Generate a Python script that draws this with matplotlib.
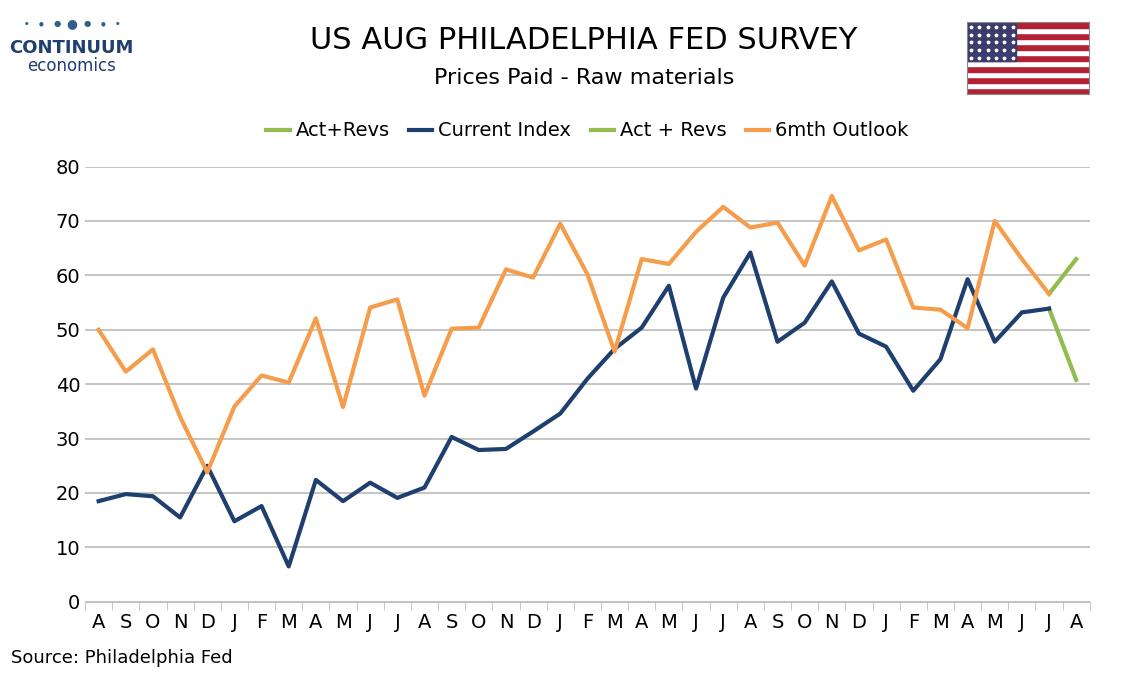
import matplotlib.pyplot as plt
import numpy as np

months = list("ASOND") + list("JFMAMJJA") + list("SOND") + list("JFMAMJJA") + list("SOND") + list("JFMAMJJA")
current = [18.5, 19.8, 19.4, 15.5, 25.0, 14.8, 17.6, 6.5, 22.4, 18.5, 21.9, 19.1, 21.0,
           30.3, 27.9, 28.1, 31.3, 34.6, 41.0, 46.5, 50.4, 58.1, 39.2, 55.9, 64.2,
           47.8, 51.3, 58.9, 49.3, 46.9, 38.8, 44.6, 59.3, 47.8, 53.2, 53.9, np.nan]
outlook = [50.0, 42.3, 46.4, 34.0, 23.8, 35.9, 41.6, 40.3, 52.1, 35.8, 54.1, 55.6, 37.9,
           50.2, 50.4, 61.1, 59.6, 69.5, 60.2, 46.0, 63.0, 62.1, 68.0, 72.6, 68.8,
           69.7, 61.8, 74.6, 64.6, 66.6, 54.1, 53.7, 50.3, 70.0, 63.0, 56.6, np.nan]
rev_current = [53.9, 40.8]   # last two months
rev_outlook = [56.6, 63.0]

BLUE = "#1f3f6e"
ORANGE = "#f59d4b"
GREEN = "#92bb50"

fig = plt.figure(figsize=(11.34, 6.8), dpi=100)
ax = fig.add_axes([0.075, 0.115, 0.886, 0.64])
x = np.arange(len(months))
n = len(months)

ax.plot(x[-2:], rev_current, color=GREEN, lw=3, label="Act+Revs")
ax.plot(x, current, color=BLUE, lw=3, label="Current Index")
ax.plot(x[-2:], rev_outlook, color=GREEN, lw=3, label="Act + Revs")
ax.plot(x, outlook, color=ORANGE, lw=3, label="6mth Outlook")

ax.set_ylim(0, 80)
ax.set_yticks(range(0, 81, 10))
ax.set_xlim(-0.5, n - 0.5)
ax.set_xticks(x)
ax.set_xticklabels(months)
ax.set_xticks(np.arange(-0.5, n, 1), minor=True)
ax.tick_params(axis="x", which="major", length=0, pad=8, labelsize=14)
ax.tick_params(axis="x", which="minor", length=6, color="#bfbfbf")
ax.tick_params(axis="y", length=0, labelsize=14)
ax.grid(axis="y", color="#c0c0c0", lw=1.3)
ax.set_axisbelow(True)
for s in ["top", "right", "left"]:
    ax.spines[s].set_visible(False)
ax.spines["bottom"].set_color("#bfbfbf")

ax.legend(loc="lower center", bbox_to_anchor=(0.5, 1.02), ncol=4, frameon=False,
          fontsize=14, handlelength=1.2, columnspacing=1.0, handletextpad=0.3)

fig.text(0.515, 0.94, "US AUG PHILADELPHIA FED SURVEY", ha="center", va="center", fontsize=22)
fig.text(0.515, 0.885, "Prices Paid - Raw materials", ha="center", va="center", fontsize=16)
fig.text(0.01, 0.025, "Source: Philadelphia Fed", fontsize=13)

# logo
fig.text(0.063, 0.93, "CONTINUUM", ha="center", va="center", fontsize=13, color="#1f3f6e", weight="bold")
fig.text(0.063, 0.903, "economics", ha="center", va="center", fontsize=12, color="#1f3f6e")
for i, sz in enumerate([3, 4, 6, 9, 6, 4, 3]):
    fig.text(0.023 + i * 0.0135, 0.965, "●", ha="center", va="center", fontsize=sz, color="#2e5f8f")

# flag
fa = fig.add_axes([0.853, 0.862, 0.107, 0.105])
for i in range(13):
    fa.add_patch(plt.Rectangle((0, i), 19, 1, color="#b22234" if i % 2 == 0 else "white"))
fa.add_patch(plt.Rectangle((0, 6), 7.6, 7, color="#3c3b6e"))
for r in range(5):
    for c in range(6):
        fa.plot(0.6 + c * 1.3, 6.6 + r * 1.4, marker="*", color="white", ms=2.5)
fa.set_xlim(0, 19)
fa.set_ylim(0, 13)
fa.set_xticks([])
fa.set_yticks([])
for s in fa.spines.values():
    s.set_color("#888888")

fig.savefig("out.png", dpi=100)
